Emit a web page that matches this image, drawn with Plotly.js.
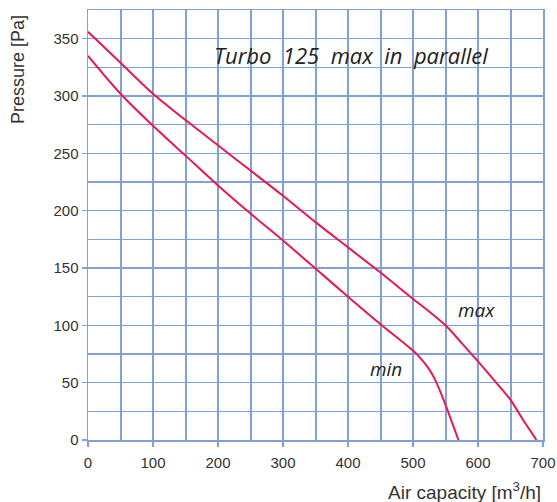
<!DOCTYPE html>
<html>
<head>
<meta charset="utf-8">
<script src="https://cdn.plot.ly/plotly-3.0.1.min.js"></script>
<style>html,body{margin:0;padding:0;background:#fff;}#chart{width:557px;height:502px;}</style>
</head>
<body>
<div id="chart"></div>
<script>
const maxFlow = [0, 50, 100, 150, 200, 250, 300, 350, 400, 450, 500, 525, 550, 575, 600, 625, 650, 670, 690];
const maxPressure = [356, 329, 302, 279, 257, 235, 213, 190, 168, 146, 123, 112, 100, 84.5, 68.5, 52, 35, 17, 0];
const minFlow = [0, 50, 100, 150, 200, 250, 300, 350, 400, 450, 500, 512, 522, 530, 537, 545, 557, 570];
const minPressure = [335, 302, 274, 248, 222, 197.5, 174, 149.5, 125, 101, 78, 71, 64, 57, 49, 38, 20, 0];
const xTicks = [0, 100, 200, 300, 400, 500, 600, 700];
const yTicks = [0, 50, 100, 150, 200, 250, 300, 350];

const gridColor = 'rgb(128,160,214)';
const curveColor = 'rgb(232,24,80)';

const traces = [
  {x: maxFlow, y: maxPressure, mode: 'lines', line: {color: curveColor, width: 2, shape: 'spline', smoothing: 0.8}, hoverinfo: 'skip'},
  {x: minFlow, y: minPressure, mode: 'lines', line: {color: curveColor, width: 2, shape: 'spline', smoothing: 0.8}, hoverinfo: 'skip'}
];

const tickFont = {family: 'Liberation Sans, Arial, sans-serif', size: 15, color: '#333'};

const layout = {
  width: 557, height: 502,
  margin: {l: 88, r: 14, t: 10, b: 62},
  paper_bgcolor: '#fff', plot_bgcolor: '#fff',
  showlegend: false,
  xaxis: {
    range: [0, 700], tickvals: xTicks, ticktext: xTicks.map(String),
    showgrid: true, gridcolor: gridColor, gridwidth: 1.5,
    minor: {dtick: 50, tick0: 0, showgrid: true, gridcolor: gridColor, gridwidth: 2, ticks: ''},
    zeroline: false, showline: true, linecolor: gridColor, linewidth: 1.5, mirror: true,
    ticks: 'outside', ticklen: 5, tickcolor: gridColor, tickwidth: 1.5,
    ticklabelstandoff: 3,
    tickfont: tickFont, fixedrange: true
  },
  yaxis: {
    range: [0, 375], tickvals: yTicks, ticktext: yTicks.map(String),
    showgrid: true, gridcolor: gridColor, gridwidth: 1.5,
    minor: {dtick: 25, tick0: 0, showgrid: true, gridcolor: gridColor, gridwidth: 1.5, ticks: ''},
    zeroline: false, showline: true, linecolor: gridColor, linewidth: 1.5, mirror: true,
    ticks: 'outside', ticklen: 5, tickcolor: gridColor, tickwidth: 1.5,
    tickfont: tickFont, fixedrange: true
  },
  annotations: [
    {text: 'Turbo\u00a0\u00a0125\u00a0\u00a0max\u00a0\u00a0in\u00a0\u00a0parallel', x: 404, y: 336, xref: 'x', yref: 'y',
     showarrow: false, xanchor: 'center', yanchor: 'middle',
     font: {family: 'Open Sans, sans-serif', size: 22, style: 'italic', color: '#222'}},
    {text: 'max', x: 597, y: 113, xref: 'x', yref: 'y', showarrow: false, xanchor: 'center', yanchor: 'middle',
     font: {family: 'Open Sans, sans-serif', size: 19, style: 'italic', color: '#222'}},
    {text: 'min', x: 459, y: 62, xref: 'x', yref: 'y', showarrow: false, xanchor: 'center', yanchor: 'middle',
     font: {family: 'Open Sans, sans-serif', size: 19, style: 'italic', color: '#222'}},
    {text: 'Pressure [Pa]', x: 18, y: 70, xref: 'paper', yref: 'paper', showarrow: false, textangle: -90,
     xanchor: 'center', yanchor: 'middle',
     font: {family: 'Liberation Sans, Arial, sans-serif', size: 18, color: '#333'}},
    {text: 'Air capacity [m<sup>3</sup>/h]', x: 543, y: 491, xref: 'paper', yref: 'paper', showarrow: false,
     xanchor: 'right', yanchor: 'middle',
     font: {family: 'Liberation Sans, Arial, sans-serif', size: 19, color: '#333'}}
  ]
};
layout.annotations.forEach(a => {
  if (a.xref === 'paper') {
    a.x = (a.x - 88) / 455;
    a.y = (440 - a.y) / 430;
  }
});

Plotly.newPlot('chart', traces, layout, {displayModeBar: false, staticPlot: true});
</script>
</body>
</html>
